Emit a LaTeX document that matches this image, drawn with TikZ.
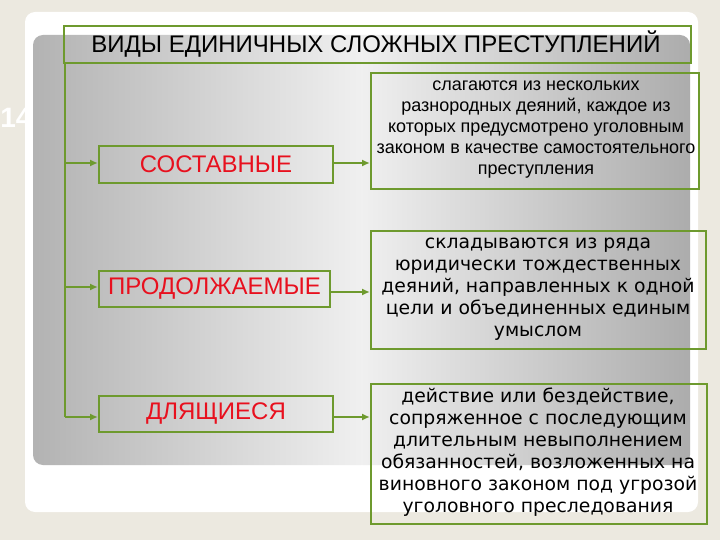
\documentclass[tikz,border=0pt]{standalone}
\usepackage{fontspec}
\setmainfont{Liberation Sans}
\newfontfamily\dvs{DejaVu Sans}
\usetikzlibrary{arrows.meta}
\definecolor{bg}{HTML}{ECE9E0}
\definecolor{gr}{HTML}{6E9A2E}
\definecolor{rd}{HTML}{E8101E}
\tikzset{
 bx/.style={draw=gr,line width=2pt},
 lbl/.style={bx,text=rd,font=\fontsize{24}{26}\selectfont,inner sep=0pt},
 desc/.style={bx,align=center,inner sep=0pt},
 ar/.style={draw=gr,line width=2pt,-{Latex[length=8pt,width=7pt]}}
}
\begin{document}
\begin{tikzpicture}[x=1pt,y=-1pt]
\useasboundingbox (0,0) rectangle (720,540);
\fill[bg] (0,0) rectangle (720,540);
\fill[white,rounded corners=10pt] (25,12) rectangle (698,512);
\shade[rounded corners=10pt,left color=gray!60,right color=gray!65,middle color=gray!12] (33,35) rectangle (690,465);
\node[font=\bfseries\fontsize{28}{28}\selectfont,text=white] (num) at (16,118) {14};
\node[bx,minimum width=627pt,minimum height=37pt,anchor=north west,inner sep=0pt] (title) at (63,25) {};
\node[font=\fontsize{24}{26}\selectfont] (tt) at (376,44) {ВИДЫ ЕДИНИЧНЫХ СЛОЖНЫХ ПРЕСТУПЛЕНИЙ};
\node[lbl,minimum width=234pt,minimum height=37pt,anchor=north west] (a) at (98,145) {СОСТАВНЫЕ};
\node[lbl,minimum width=231pt,minimum height=36pt,anchor=north west] (b) at (98,270) {ПРОДОЛЖАЕМЫЕ};
\node[lbl,minimum width=234pt,minimum height=36pt,anchor=north west] (c) at (98,395) {ДЛЯЩИЕСЯ};
\node[desc,minimum width=328pt,minimum height=116pt,anchor=north west] (d1) at (370,72) {};
\node[align=center,font=\fontsize{18}{21}\selectfont] (t1) at (536,130) {слагаются из нескольких\\разнородных деяний, каждое из\\которых предусмотрено уголовным\\законом в качестве самостоятельного\\преступления};
\node[desc,minimum width=335pt,minimum height=118pt,anchor=north west] (d2) at (370,230) {};
\node[align=center,font=\dvs\fontsize{18.8}{22}\selectfont] (t2) at (538,289) {складываются из ряда\\юридически тождественных\\деяний, направленных к одной\\цели и объединенных единым\\умыслом};
\node[desc,minimum width=336pt,minimum height=140pt,anchor=north west] (d3) at (370,383) {};
\node[align=center,font=\dvs\fontsize{18.8}{22}\selectfont] (t3) at (538,452) {действие или бездействие,\\сопряженное с последующим\\длительным невыполнением\\обязанностей, возложенных на\\виновного законом под угрозой\\уголовного преследования};
\coordinate (top) at (65,62);
\coordinate (bot) at (65,417);
\draw[gr,line width=2pt] (top) -- (bot);
\draw[ar] (65,163) -- (a.west|-0,163);
\draw[ar] (65,287) -- (b.west|-0,287);
\draw[ar] (bot) -- (c.west|-bot);
\draw[ar] (a.east|-0,163) -- (d1.west|-0,163);
\draw[ar] (b.east|-0,292) -- (d2.west|-0,292);
\draw[ar] (c.east|-0,417) -- (d3.west|-0,417);
\end{tikzpicture}
\end{document}
